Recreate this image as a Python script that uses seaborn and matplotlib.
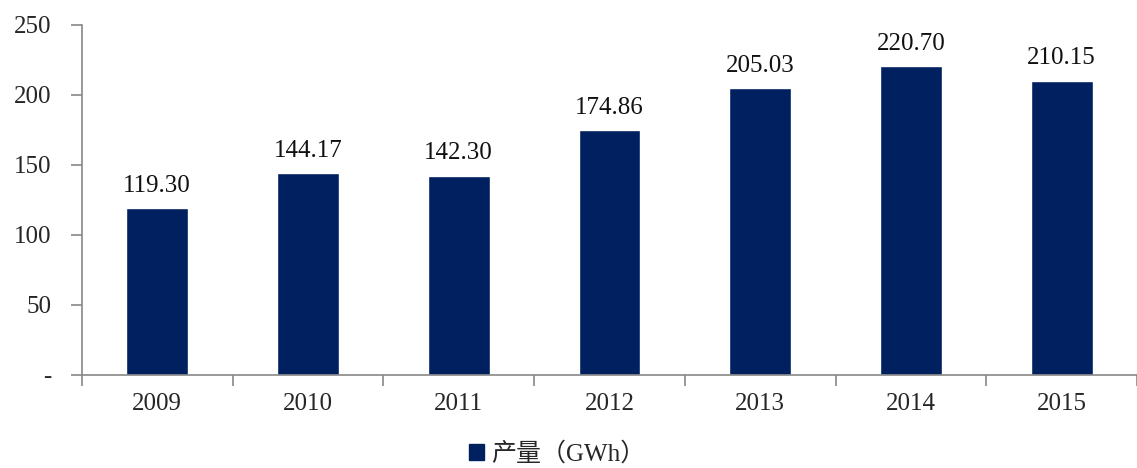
import numpy as np
import pandas as pd
import seaborn as sns
import matplotlib.pyplot as plt
from matplotlib.patches import Patch

years = ['2009', '2010', '2011', '2012', '2013', '2014', '2015']
output_gwh = [119.30, 144.17, 142.30, 174.86, 205.03, 220.70, 210.15]
yticks = [0, 50, 100, 150, 200, 250]
ytick_labels = ['-', '50', '100', '150', '200', '250']
series_name = '产量（GWh）'

sns.set_style('white')
plt.rcParams['font.family'] = ['Liberation Serif', 'Noto Sans CJK SC', 'DejaVu Sans']

df = pd.DataFrame({'year': years, 'value': output_gwh})

fig = plt.figure(figsize=(11.37, 4.68), dpi=100)
ax = fig.add_axes([0.072, 0.199, 0.928, 0.748])
bar_color = '#002060'
sns.barplot(data=df, x='year', y='value', color=bar_color, width=0.41,
            saturation=1, ax=ax)

for i, v in enumerate(output_gwh):
    ax.text(i, v + 8, f'{v:.2f}', ha='center', va='bottom', fontsize=18, color='#111111')

ax.set_xlim(-0.5, 6.5)
ax.set_ylim(0, 250)
ax.set_yticks(yticks)
ax.set_yticklabels(ytick_labels, fontsize=18)
ax.set_xticks(range(len(years)))
ax.set_xticklabels(years, fontsize=18)
ax.tick_params(axis='x', which='major', bottom=True, length=0, pad=13)
ax.tick_params(axis='y', left=True, length=8, color='#888888', width=1.2,
               direction='out', pad=14)
ax.set_xticks(np.arange(-0.5, 7, 1), minor=True)
ax.tick_params(axis='x', which='minor', bottom=True, length=8, color='#888888',
               width=1.2, direction='out')
ax.set_xlabel('')
ax.set_ylabel('')

for side in ['top', 'right']:
    ax.spines[side].set_visible(False)
for side in ['left', 'bottom']:
    ax.spines[side].set_color('#888888')
    ax.spines[side].set_linewidth(1.2)

handle = Patch(facecolor=bar_color, edgecolor=bar_color)
fig.legend([handle], [series_name], loc='center', bbox_to_anchor=(0.49, 0.03),
           frameon=False, fontsize=18, handlelength=0.6, handleheight=0.6,
           handletextpad=0.3, borderpad=0.1)

fig.savefig('out.png', dpi=100)
